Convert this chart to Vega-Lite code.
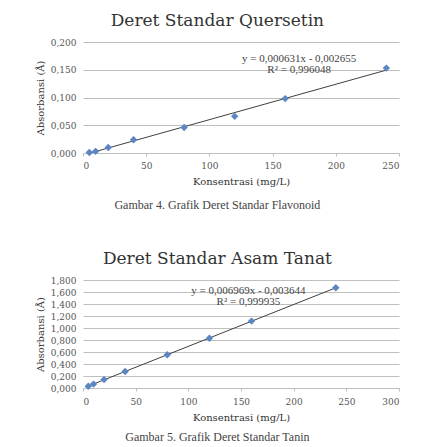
{
  "$schema": "https://vega.github.io/schema/vega-lite/v6.json",
  "background": "white",
  "padding": {"left": 35, "top": 12, "right": 5, "bottom": 0},
  "spacing": 39,
  "config": {
    "locale": {"number": {"decimal": ",", "thousands": ".", "grouping": [3], "currency": ["", ""]}},
    "font": "DejaVu Serif",
    "view": {"stroke": null},
    "axis": {
      "labelFont": "DejaVu Serif", "labelFontSize": 9, "labelColor": "#555555",
      "titleFont": "DejaVu Serif", "titleFontSize": 10, "titleColor": "#333333", "titleFontWeight": "normal",
      "gridColor": "#bfbfbf", "gridWidth": 1, "domainColor": "#bfbfbf", "tickColor": "#bfbfbf", "tickSize": 3
    },
    "concat": {"spacing": 39}
  },
  "vconcat": [
    {
      "title": {"text": "Gambar 4. Grafik Deret Standar Flavonoid", "orient": "bottom", "anchor": "middle", "frame": "bounds", "font": "Liberation Serif", "fontSize": 12, "fontWeight": "normal", "color": "#444444", "offset": 14},
      "vconcat": [
        {
          "title": {"text": "Deret Standar Quersetin", "anchor": "middle", "frame": "bounds", "font": "DejaVu Serif", "fontSize": 17, "fontWeight": "normal", "color": "#333333", "offset": 8},
          "width": 316, "height": 111,
          "data": {"values": [
            {"x": 5, "y": 0.001}, {"x": 10, "y": 0.003}, {"x": 20, "y": 0.010}, {"x": 40, "y": 0.024},
            {"x": 80, "y": 0.046}, {"x": 120, "y": 0.066}, {"x": 160, "y": 0.098}, {"x": 240, "y": 0.153}
          ]},
          "encoding": {
            "x": {"field": "x", "type": "quantitative", "scale": {"domain": [0, 250]}, "axis": {"values": [0, 50, 100, 150, 200, 250], "grid": false, "labelPadding": 5, "title": "Konsentrasi (mg/L)", "titlePadding": 6}},
            "y": {"field": "y", "type": "quantitative", "scale": {"domain": [0, 0.2]}, "axis": {"values": [0, 0.05, 0.1, 0.15, 0.2], "format": ".3f", "domain": false, "ticks": false, "labelPadding": 7, "title": "Absorbansi (Å)", "titlePadding": 5}}
          },
          "layer": [
            {
              "transform": [{"regression": "y", "on": "x"}],
              "mark": {"type": "line", "color": "#404040", "strokeWidth": 1}
            },
            {
              "mark": {"type": "point", "shape": "diamond", "filled": true, "size": 55, "color": "#5b86c4", "opacity": 1}
            },
            {
              "data": {"values": [{"x": 171, "y": 0.1695, "label": "y = 0,000631x - 0,002655\nR² = 0,996048"}]},
              "mark": {"type": "text", "lineBreak": "\n", "align": "center", "baseline": "middle", "font": "Liberation Serif", "fontSize": 11, "color": "#444444", "lineHeight": 11},
              "encoding": {
                "text": {"field": "label"}
              }
            }
          ]
        }
      ]
    },
    {
      "title": {"text": "Gambar 5. Grafik Deret Standar Tanin", "orient": "bottom", "anchor": "middle", "frame": "bounds", "font": "Liberation Serif", "fontSize": 12, "fontWeight": "normal", "color": "#444444", "offset": 10},
      "vconcat": [
        {
          "title": {"text": "Deret Standar Asam Tanat", "anchor": "middle", "frame": "bounds", "font": "DejaVu Serif", "fontSize": 17, "fontWeight": "normal", "color": "#333333", "offset": 8},
          "width": 316, "height": 108,
          "data": {"values": [
            {"x": 5, "y": 0.030}, {"x": 10, "y": 0.065}, {"x": 20, "y": 0.140}, {"x": 40, "y": 0.275},
            {"x": 80, "y": 0.555}, {"x": 120, "y": 0.830}, {"x": 160, "y": 1.115}, {"x": 240, "y": 1.670}
          ]},
          "encoding": {
            "x": {"field": "x", "type": "quantitative", "scale": {"domain": [0, 300]}, "axis": {"values": [0, 50, 100, 150, 200, 250, 300], "grid": false, "labelPadding": 6, "title": "Konsentrasi (mg/L)", "titlePadding": 6}},
            "y": {"field": "y", "type": "quantitative", "scale": {"domain": [0, 1.8]}, "axis": {"values": [0, 0.2, 0.4, 0.6, 0.8, 1.0, 1.2, 1.4, 1.6, 1.8], "format": ".3f", "domain": false, "ticks": false, "labelPadding": 7, "labelOverlap": false, "title": "Absorbansi (Å)", "titlePadding": 5}}
          },
          "layer": [
            {
              "transform": [{"regression": "y", "on": "x"}],
              "mark": {"type": "line", "color": "#404040", "strokeWidth": 1}
            },
            {
              "mark": {"type": "point", "shape": "diamond", "filled": true, "size": 55, "color": "#5b86c4", "opacity": 1}
            },
            {
              "data": {"values": [{"x": 157, "y": 1.625, "label": "y = 0,006969x - 0,003644\nR² = 0,999935"}]},
              "mark": {"type": "text", "lineBreak": "\n", "align": "center", "baseline": "middle", "font": "Liberation Serif", "fontSize": 11, "color": "#444444", "lineHeight": 11},
              "encoding": {
                "text": {"field": "label"}
              }
            }
          ]
        }
      ]
    }
  ]
}
